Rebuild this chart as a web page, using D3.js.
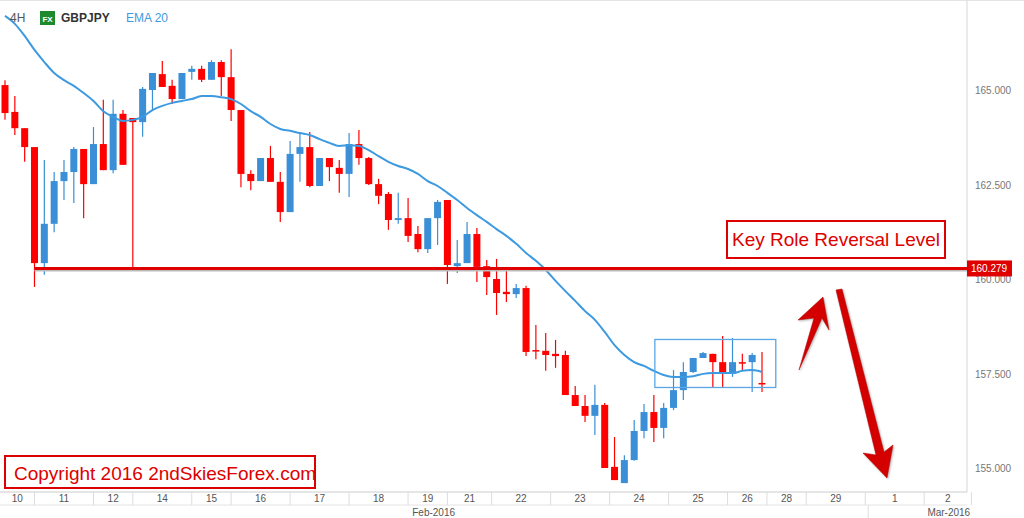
<!DOCTYPE html>
<html><head><meta charset="utf-8">
<script src="https://cdn.jsdelivr.net/npm/d3@7"></script>
<style>body{margin:0;background:#fff;font-family:"Liberation Sans",Arial,sans-serif}</style>
</head><body><div id="chart"></div>
<script>
// 4H candles, GBPJPY
var opens  = [165.13,164.42,163.99,163.49,160.42,161.46,162.59,162.83,163.44,162.51,163.57,162.88,164.37,164.26,164.15,165.0,165.42,165.11,164.76,165.48,165.56,165.27,165.74,165.34,164.47,162.78,162.59,163.2,162.57,161.77,163.31,163.49,162.46,163.2,162.94,162.78,163.57,163.2,162.51,162.25,161.56,161.61,161.19,160.79,161.61,162.09,160.34,160.42,161.19,160.34,160.0,159.66,159.6,159.76,158.12,158.1,158.02,157.99,156.93,156.64,156.38,156.67,155.03,154.6,155.21,155.98,156.48,156.06,156.59,157.06,157.54,157.91,158.02,157.8,157.51,157.8,157.8,157.25];
var highs  = [165.26,164.84,163.99,163.49,163.15,162.83,163.15,163.49,163.44,164.02,164.74,164.74,164.47,164.26,165.08,165.45,165.77,165.27,165.45,165.64,165.64,165.79,165.79,166.08,164.47,162.88,163.2,163.52,162.83,163.65,163.89,163.89,163.2,163.2,163.15,163.86,163.94,163.23,162.65,162.3,162.28,162.14,161.4,161.61,162.09,162.09,161.03,161.51,161.35,160.5,160.53,160.27,159.87,159.82,158.78,158.57,158.39,158.1,157.17,156.93,157.2,156.72,155.82,155.34,156.27,156.69,156.93,156.72,157.59,157.8,157.91,158.07,158.02,158.49,158.44,158.02,158.04,158.07];
var lows   = [164.21,163.81,163.1,159.79,160.11,161.24,162.09,162.01,161.61,162.51,162.88,162.8,163.02,160.29,163.76,164.47,165.08,164.63,164.76,165.27,165.21,165.27,164.84,164.18,162.43,162.35,162.59,162.57,161.51,161.77,162.57,162.43,162.46,162.59,162.28,162.17,163.02,162.49,161.98,161.3,161.46,160.98,160.71,160.69,160.9,159.87,160.16,160.42,159.92,159.58,159.05,159.39,159.5,157.96,157.88,157.57,157.65,156.93,156.64,156.22,155.87,155.0,154.68,154.6,155.19,155.79,155.69,155.79,156.53,156.8,157.51,157.91,157.12,157.14,157.41,157.59,157.01,157.01];
var closes = [164.39,163.99,163.49,160.42,161.46,162.59,162.83,163.44,162.51,163.57,162.88,164.37,163.02,164.15,165.03,165.45,165.08,164.76,165.45,165.56,165.27,165.74,165.34,164.47,162.78,162.59,163.2,162.57,161.77,163.31,163.49,162.46,163.2,162.96,162.78,163.57,163.2,162.51,162.2,161.56,161.61,161.14,160.79,161.61,162.04,160.37,160.42,161.19,160.32,160.05,159.63,159.6,159.76,158.07,158.1,157.99,157.96,156.93,156.64,156.38,156.67,155.0,154.68,155.21,155.98,156.48,156.06,156.59,157.06,157.54,157.91,158.04,157.8,157.51,157.8,157.78,157.99,157.22];
var ema20  = [166.96,166.75,166.43,166.06,165.74,165.45,165.26,165.11,164.92,164.71,164.44,164.29,164.18,164.21,164.29,164.47,164.58,164.66,164.71,164.76,164.84,164.84,164.81,164.76,164.63,164.44,164.29,164.10,163.97,163.92,163.86,163.81,163.70,163.60,163.52,163.54,163.52,163.41,163.25,163.10,162.99,162.91,162.78,162.59,162.46,162.28,162.09,161.88,161.69,161.51,161.32,161.14,160.93,160.69,160.48,160.24,159.95,159.68,159.42,159.15,158.92,158.60,158.25,157.99,157.80,157.70,157.57,157.46,157.41,157.41,157.43,157.49,157.51,157.51,157.51,157.57,157.59,157.54];
var priceTicks = [155, 157.5, 160, 162.5, 165];
var level = 160.279;
// day labels and where each day starts (in candle slots)
var dayLabels = ["10","11","12","14","15","16","17","18","19","21","22","23","24","25","26","28","29","1","2"];
var dayStarts = [-3,3,9,13,19,23,29,35,41,45,49.5,55.5,61.5,67.5,73.5,77.5,81.5,87.5,93.5,98.3];
var monthLabels = [{t:"Feb-2016", at:43.6}, {t:"Mar-2016", at:96}];
var monthSplit = 87.8;

var W = 1024, H = 518, plotR = 967, plotB = 492;
var red = "#ff0000", blue = "#3a8fd6";

var svg = d3.select("#chart").append("svg").attr("width", W).attr("height", H);
var x = d3.scaleLinear().domain([0, 77]).range([5, 762]);
var y = d3.scaleLinear().domain([155, 165]).range([468, 90]);

// right axis
svg.append("line").attr("x1", plotR).attr("x2", plotR).attr("y1", 0).attr("y2", plotB).attr("stroke", "#d6d6d6");
svg.append("line").attr("x1", 0).attr("x2", W).attr("y1", 0.5).attr("y2", 0.5).attr("stroke", "#e4e4e4");
svg.selectAll(".pt").data(priceTicks).join("text")
  .attr("x", 975).attr("y", d => y(d) + 4).attr("font-size", 10).attr("fill", "#777")
  .text(d => d3.format(".3f")(d));

// bottom axis
svg.append("line").attr("x1", 0).attr("x2", plotR).attr("y1", plotB).attr("y2", plotB).attr("stroke", "#ccc");
svg.append("line").attr("x1", 0).attr("x2", plotR).attr("y1", 505).attr("y2", 505).attr("stroke", "#e4e4e4");
svg.selectAll(".ds").data(dayStarts.slice(1)).join("line")
  .attr("x1", d => x(d)).attr("x2", d => x(d)).attr("y1", plotB).attr("y2", 505).attr("stroke", "#ddd");
svg.selectAll(".dl").data(dayLabels).join("text")
  .attr("x", (d, i) => (Math.max(0, x(dayStarts[i])) + x(dayStarts[i + 1])) / 2)
  .attr("y", 502).attr("text-anchor", "middle").attr("font-size", 10).attr("fill", "#555").text(d => d);
svg.append("line").attr("x1", x(monthSplit)).attr("x2", x(monthSplit)).attr("y1", 505).attr("y2", H).attr("stroke", "#ddd");
svg.selectAll(".ml").data(monthLabels).join("text")
  .attr("x", d => x(d.at)).attr("y", 516).attr("text-anchor", "middle").attr("font-size", 10).attr("fill", "#555").text(d => d.t);

// candles
var idx = d3.range(opens.length);
var col = i => closes[i] >= opens[i] ? blue : red;
svg.selectAll(".wick").data(idx).join("line")
  .attr("x1", i => x(i)).attr("x2", i => x(i)).attr("y1", i => y(highs[i])).attr("y2", i => y(lows[i]))
  .attr("stroke", col).attr("stroke-width", 1.2);
svg.selectAll(".body").data(idx).join("rect")
  .attr("x", i => x(i) - 3.5).attr("width", 7)
  .attr("y", i => y(Math.max(opens[i], closes[i])))
  .attr("height", i => Math.max(1.5, Math.abs(y(opens[i]) - y(closes[i]))))
  .attr("fill", col);

// EMA 20
svg.append("path").datum(idx)
  .attr("d", d3.line().x(i => x(i)).y(i => y(ema20[i])).curve(d3.curveMonotoneX))
  .attr("fill", "none").attr("stroke", "#3d9ae0").attr("stroke-width", 2);

// key level line
svg.append("line").attr("x1", x(3)).attr("x2", plotR).attr("y1", y(level) + 2).attr("y2", y(level) + 2)
  .attr("stroke", "#bbb").attr("stroke-width", 2);
svg.append("line").attr("x1", x(3)).attr("x2", plotR).attr("y1", y(level)).attr("y2", y(level))
  .attr("stroke", "#e00000").attr("stroke-width", 3);
svg.append("rect").attr("x", plotR).attr("y", y(level) - 8).attr("width", 45).attr("height", 16).attr("fill", "#e00000");
svg.append("text").attr("x", plotR + 22).attr("y", y(level) + 4).attr("text-anchor", "middle")
  .attr("font-size", 10).attr("fill", "#fff").text(d3.format(".3f")(level));

// consolidation box
svg.append("rect").attr("x", x(66) + 1).attr("y", y(158.4)).attr("width", x(78.3) - x(66))
  .attr("height", y(157.13) - y(158.4)).attr("fill", "none").attr("stroke", "#5aa6e6").attr("stroke-width", 1.3);

// arrows
var arrowUp = [[799, 370], [814, 318], [798, 320], [823, 297], [829, 330], [822, 318]];
var arrowDn = [[836, 290], [842, 289], [884, 452], [893, 445], [887, 478], [863, 453], [876, 455]];
[arrowUp, arrowDn].forEach(p => svg.append("polygon").attr("points", p.join(" "))
  .attr("fill", "#d40000").attr("stroke", "#b00000").attr("stroke-width", 0.5)
  .style("filter", "drop-shadow(1px 1px 1px rgba(0,0,0,0.3))"));

// annotation boxes
svg.append("rect").attr("x", 727).attr("y", 221).attr("width", 218).attr("height", 37)
  .attr("fill", "#fff").attr("stroke", "#d00").attr("stroke-width", 2);
svg.append("text").attr("x", 836).attr("y", 246).attr("text-anchor", "middle")
  .attr("font-size", 19).attr("fill", "#d00").text("Key Role Reversal Level");
svg.append("rect").attr("x", 5).attr("y", 456).attr("width", 310).attr("height", 32)
  .attr("fill", "#fff").attr("stroke", "#d00").attr("stroke-width", 2);
svg.append("text").attr("x", 14).attr("y", 480)
  .attr("font-size", 19).attr("fill", "#d00").text("Copyright 2016 2ndSkiesForex.com");

// header
svg.append("text").attr("x", 10).attr("y", 22).attr("font-size", 12).attr("fill", "#555").text("4H");
svg.append("rect").attr("x", 40).attr("y", 11).attr("width", 15).attr("height", 14).attr("fill", "#1e8a2e");
svg.append("text").attr("x", 47.5).attr("y", 22).attr("text-anchor", "middle").attr("font-size", 8)
  .attr("font-weight", "bold").attr("fill", "#fff").text("FX");
svg.append("text").attr("x", 61).attr("y", 22).attr("font-size", 12).attr("font-weight", "bold").attr("fill", "#333").text("GBPJPY");
svg.append("text").attr("x", 126).attr("y", 22).attr("font-size", 12).attr("fill", "#3d9ae0").text("EMA 20");
</script></body></html>
